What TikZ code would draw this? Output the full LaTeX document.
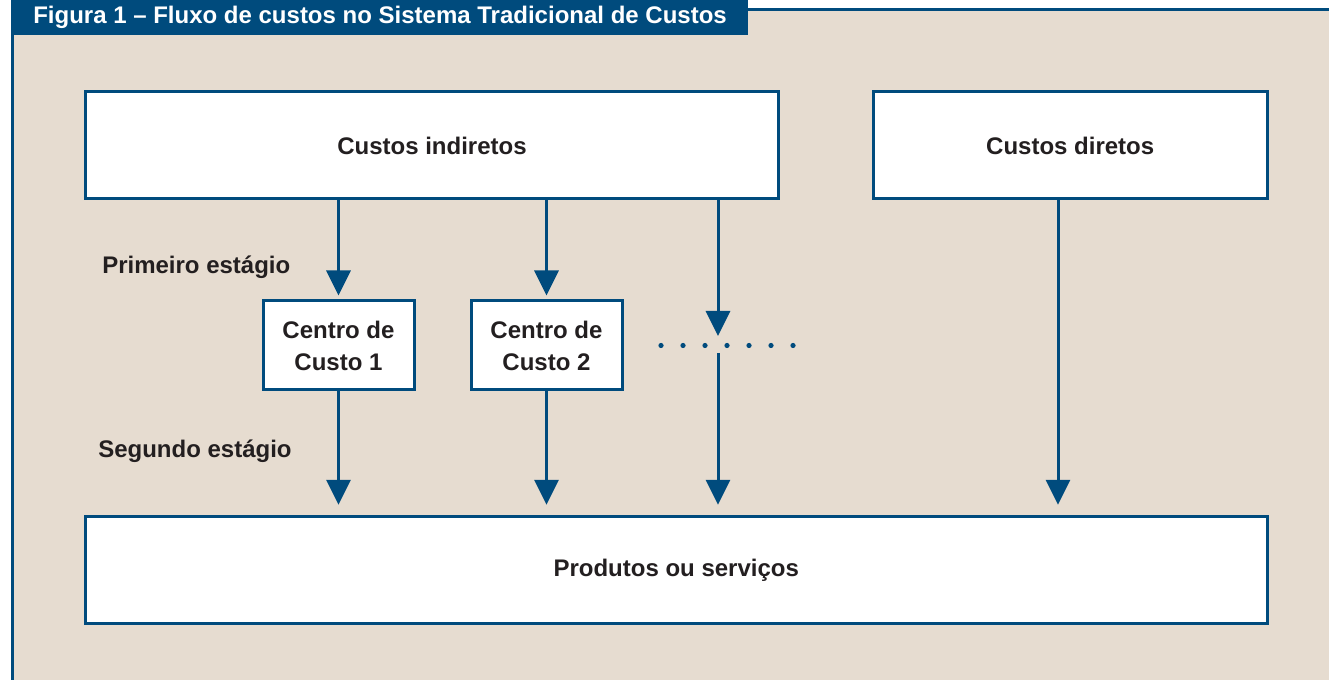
\documentclass[tikz,border=0pt]{standalone}
\usepackage{fontspec}
\setmainfont{Liberation Sans}
\usetikzlibrary{arrows.meta}
\definecolor{azul}{RGB}{0,75,125}
\definecolor{bege}{RGB}{230,220,208}
\definecolor{tinta}{RGB}{35,31,32}
\tikzset{
  caixa/.style={draw=azul, line width=2.25pt, fill=white, inner sep=0pt, text=tinta,
    font=\fontsize{18}{24}\selectfont\bfseries, align=center},
  fluxo/.style={draw=azul, line width=2.25pt, -{Triangle[width=18pt,length=18.75pt]}},
  rotulo/.style={text=tinta, font=\fontsize{18}{24}\selectfont\bfseries, inner sep=0pt, anchor=west}
}
\begin{document}
\begin{tikzpicture}[x=0.75pt,y=0.75pt,yscale=-1,xscale=1]
\useasboundingbox (0,0) rectangle (1329,680);

%Shape: Frame
\fill[bege] (12,10) rectangle (1329,680);
\draw[azul, line width=2.25pt] (12.5,680) -- (12.5,10) -- (1329,10);
%Shape: Title bar
\fill[azul] (11,0) rectangle (748,35);
% Text Node
\node[rotulo, text=white, anchor=base west] (titulo) at (33,24) {Figura 1 – Fluxo de custos no Sistema Tradicional de Custos};

%Shape: Boxes
\node[caixa, minimum width=519.75pt, minimum height=80.25pt] (ind) at (432,145.5) {Custos indiretos};
\node[caixa, minimum width=295.125pt, minimum height=80.25pt] (dir) at (1070.25,145.5) {Custos diretos};
\node[caixa, minimum width=113.25pt, minimum height=66.75pt] (cc1) at (338.5,345.5) {Centro de\\Custo 1};
\node[caixa, minimum width=113.25pt, minimum height=66.75pt] (cc2) at (546.5,345.5) {Centro de\\Custo 2};
\node[caixa, minimum width=886.125pt, minimum height=80.25pt] (prod) at (676.25,570.5) {Produtos ou serviços};

% Text Node
\node[rotulo] (est1) at (102,267) {Primeiro estágio};
% Text Node
\node[rotulo] (est2) at (98,451) {Segundo estágio};

%Straight Lines
\coordinate (gap) at (718,336);
\coordinate (gapfim) at (718,353);
\coordinate (dirx) at (1058,0);
\draw[fluxo, shorten >=3] (ind.south -| cc1.north) -- (cc1.north);
\draw[fluxo, shorten >=3] (ind.south -| cc2.north) -- (cc2.north);
\draw[fluxo] (ind.south -| gap) -- (gap);
\draw[fluxo, shorten >=8] (cc1.south) -- (prod.north -| cc1.south);
\draw[fluxo, shorten >=8] (cc2.south) -- (prod.north -| cc2.south);
\draw[fluxo, shorten >=8] (gapfim) -- (prod.north -| gapfim);
\draw[fluxo, shorten >=8] (dir.south -| dirx) -- (prod.north -| dirx);

%Shape: Dots
\foreach \i in {0,...,6}
  \fill[azul] (661+22*\i,345.5) circle (2.6);

\end{tikzpicture}
\end{document}
